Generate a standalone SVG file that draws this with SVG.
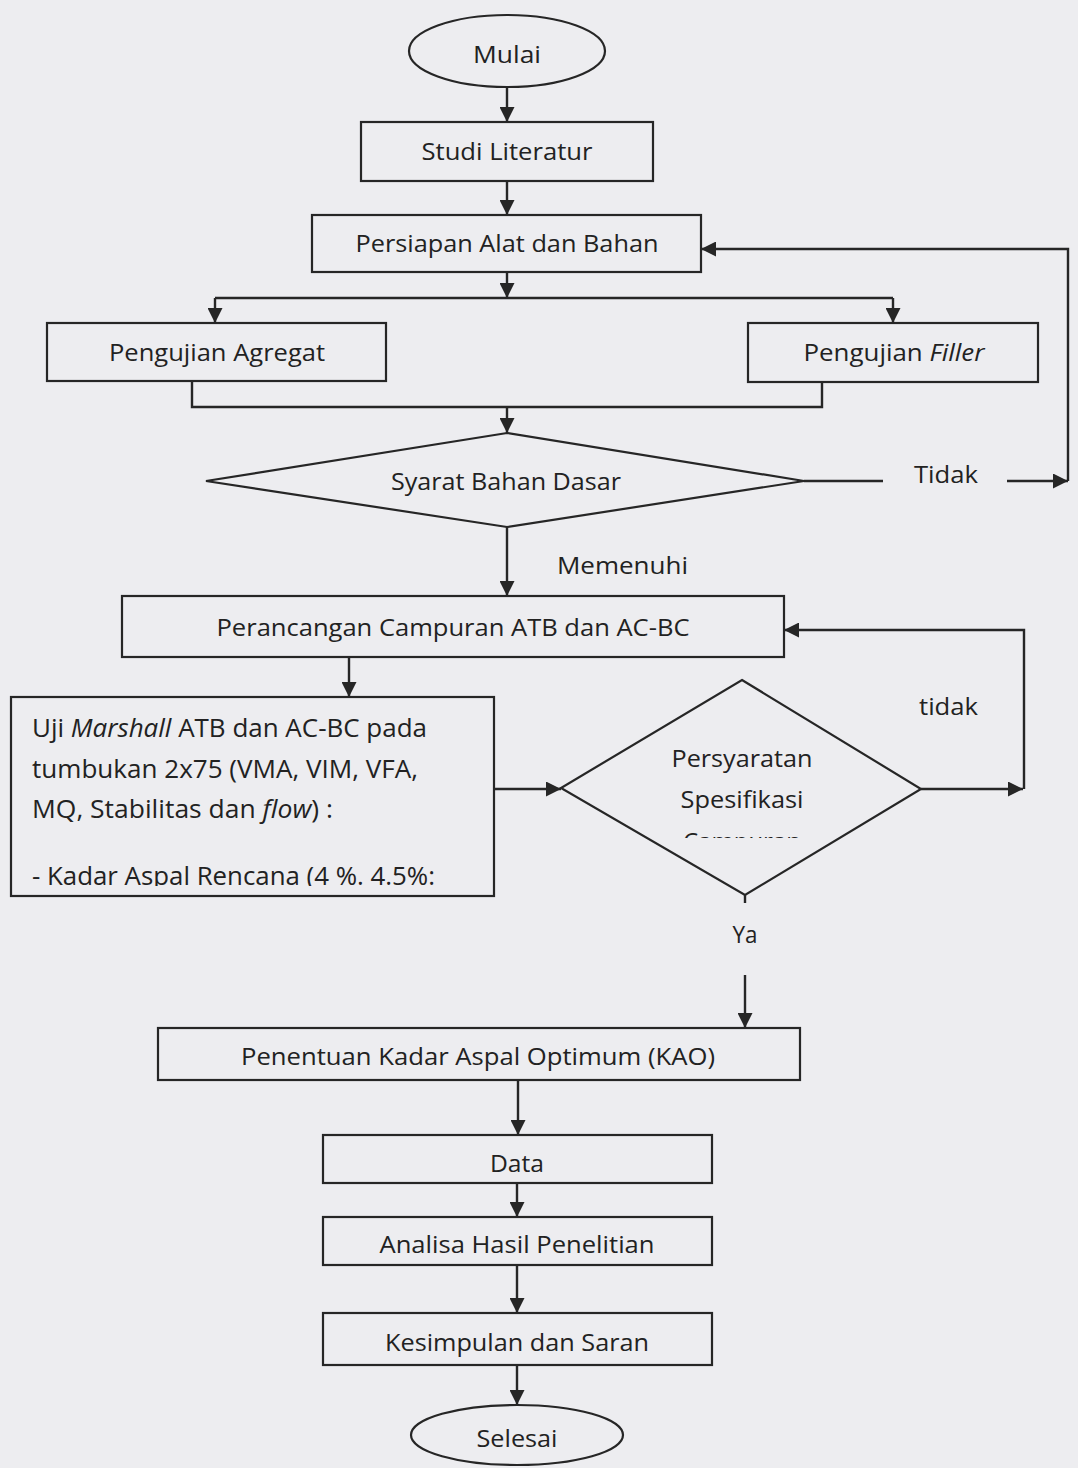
<svg xmlns="http://www.w3.org/2000/svg" width="1078" height="1468" viewBox="0 0 1078 1468">
<defs>
<marker id="ah" viewBox="0 0 14 14" refX="14" refY="7" markerWidth="15" markerHeight="15" markerUnits="userSpaceOnUse" orient="auto"><path d="M0,0 L14,7 L0,14 z" fill="#262626"/></marker>
<clipPath id="clipC"><rect x="600" y="820" width="300" height="18"/></clipPath>
<clipPath id="clipK"><rect x="12" y="850" width="480" height="36"/></clipPath>
</defs>
<style>
.n rect, .n ellipse, .n polygon {fill:none; stroke:#262626; stroke-width:2.2}
text {font-family:"Open Sans","Liberation Sans",sans-serif; fill:#222; font-size:24px}
.c {text-anchor:middle}
.conn path {fill:none; stroke:#262626; stroke-width:2.4}
.big {font-size:26px}
.it {font-style:italic}
</style>
<rect width="1078" height="1468" fill="#ededf0"/>

<g id="mulai" class="n"><ellipse cx="507" cy="51" rx="98" ry="36"/><text class="c" x="507" y="63" textLength="68" lengthAdjust="spacingAndGlyphs">Mulai</text></g>
<g id="studi" class="n"><rect x="361" y="122" width="292" height="59"/><text class="c" x="507" y="160" textLength="171" lengthAdjust="spacingAndGlyphs">Studi Literatur</text></g>
<g id="persiapan" class="n"><rect x="312" y="215" width="389" height="57"/><text class="c" x="507" y="252" textLength="303" lengthAdjust="spacingAndGlyphs">Persiapan Alat dan Bahan</text></g>
<g id="agregat" class="n"><rect x="47" y="323" width="339" height="58"/><text class="c" x="217" y="361" textLength="216" lengthAdjust="spacingAndGlyphs">Pengujian Agregat</text></g>
<g id="filler" class="n"><rect x="748" y="323" width="290" height="59"/><text class="c" x="894" y="361" textLength="181" lengthAdjust="spacingAndGlyphs">Pengujian <tspan class="it">Filler</tspan></text></g>
<g id="syarat" class="n"><polygon points="507,433 804,481 507,527 206,481"/><text class="c" x="506" y="490" textLength="230" lengthAdjust="spacingAndGlyphs">Syarat Bahan Dasar</text></g>
<g id="perancangan" class="n"><rect x="122" y="596" width="662" height="61"/><text class="c" x="453" y="636" textLength="473" lengthAdjust="spacingAndGlyphs">Perancangan Campuran ATB dan AC-BC</text></g>
<g id="uji" class="n"><rect x="11" y="697" width="483" height="199"/>
<text class="big" x="32" y="737" textLength="395" lengthAdjust="spacingAndGlyphs">Uji <tspan class="it">Marshall</tspan> ATB dan AC-BC pada</text>
<text class="big" x="32" y="778" textLength="386" lengthAdjust="spacingAndGlyphs">tumbukan 2x75 (VMA, VIM, VFA,</text>
<text class="big" x="32" y="818" textLength="301" lengthAdjust="spacingAndGlyphs">MQ, Stabilitas dan <tspan class="it">flow</tspan>) :</text>
<text class="big" x="32" y="885" textLength="403" lengthAdjust="spacingAndGlyphs" clip-path="url(#clipK)">- Kadar Aspal Rencana (4 %. 4.5%:</text></g>
<g id="persyaratan" class="n"><polygon points="742,680 921,789 745,895 561,788"/>
<text class="c" x="742" y="767" textLength="141" lengthAdjust="spacingAndGlyphs">Persyaratan</text>
<text class="c" x="742" y="808" textLength="123" lengthAdjust="spacingAndGlyphs">Spesifikasi</text>
<text class="c" x="742" y="850" clip-path="url(#clipC)">Campuran</text></g>
<g id="penentuan" class="n"><rect x="158" y="1028" width="642" height="52"/><text class="c" x="478" y="1065" textLength="474" lengthAdjust="spacingAndGlyphs">Penentuan Kadar Aspal Optimum (KAO)</text></g>
<g id="data" class="n"><rect x="323" y="1135" width="389" height="48"/><text class="c" x="517" y="1172" textLength="54" lengthAdjust="spacingAndGlyphs">Data</text></g>
<g id="analisa" class="n"><rect x="323" y="1217" width="389" height="48"/><text class="c" x="517" y="1253" textLength="275" lengthAdjust="spacingAndGlyphs">Analisa Hasil Penelitian</text></g>
<g id="kesimpulan" class="n"><rect x="323" y="1313" width="389" height="52"/><text class="c" x="517" y="1351" textLength="264" lengthAdjust="spacingAndGlyphs">Kesimpulan dan Saran</text></g>
<g id="selesai" class="n"><ellipse cx="517" cy="1435" rx="106" ry="30"/><text class="c" x="517" y="1447" textLength="81" lengthAdjust="spacingAndGlyphs">Selesai</text></g>

<g id="connectors" class="conn">
<path d="M507,87 V122" marker-end="url(#ah)"/>
<path d="M507,181 V215" marker-end="url(#ah)"/>
<path d="M507,272 V298" marker-end="url(#ah)"/>
<path d="M215,298 H893"/>
<path d="M215,298 V323" marker-end="url(#ah)"/>
<path d="M893,298 V323" marker-end="url(#ah)"/>
<path d="M192,381 V407 H822 V382"/>
<path d="M507,407 V433" marker-end="url(#ah)"/>
<path d="M804,481 H883"/>
<path d="M1007,481 H1068" marker-end="url(#ah)"/>
<path d="M1068,481 V249 H701" marker-end="url(#ah)"/>
<path d="M507,527 V596" marker-end="url(#ah)"/>
<path d="M349,657 V697" marker-end="url(#ah)"/>
<path d="M494,789 H561" marker-end="url(#ah)"/>
<path d="M921,789 H1023" marker-end="url(#ah)"/>
<path d="M1024,789 V630 H784" marker-end="url(#ah)"/>
<path d="M745,895 V903"/>
<path d="M745,975 V1028" marker-end="url(#ah)"/>
<path d="M518,1080 V1135" marker-end="url(#ah)"/>
<path d="M517,1183 V1217" marker-end="url(#ah)"/>
<path d="M517,1265 V1313" marker-end="url(#ah)"/>
<path d="M517,1365 V1405" marker-end="url(#ah)"/>
</g>
<g id="labels">
<text x="914" y="483" textLength="64" lengthAdjust="spacingAndGlyphs">Tidak</text>
<text x="557" y="574" textLength="131" lengthAdjust="spacingAndGlyphs">Memenuhi</text>
<text x="919" y="715" textLength="59" lengthAdjust="spacingAndGlyphs">tidak</text>
<text class="c" x="745" y="943" textLength="25" lengthAdjust="spacingAndGlyphs">Ya</text>
</g>
</svg>
